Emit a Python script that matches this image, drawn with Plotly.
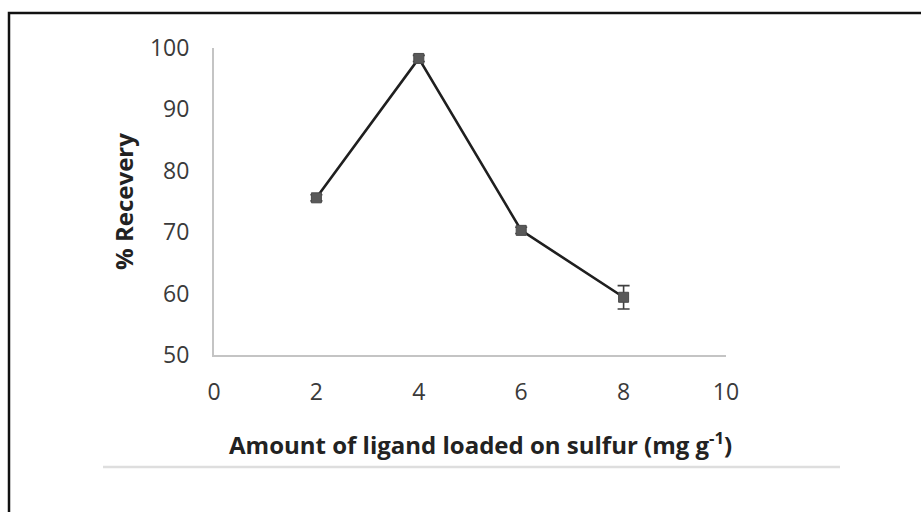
import plotly.graph_objects as go

# Ligand loading (mg g-1) vs. % recovery
loading = [2, 4, 6, 8]
recovery = [75.6, 98.3, 70.3, 59.4]
recovery_err = [0.5, 0.5, 0.5, 1.9]

x_ticks = [0, 2, 4, 6, 8, 10]
y_ticks = [50, 60, 70, 80, 90, 100]

W, H = 921, 512
L, R, T, B = 214, 195, 48, 157
plot_w = W - L - R
plot_h = H - T - B


def px_x(p):
    return (p - L) / plot_w


def px_y(p):
    return (H - B - p) / plot_h


font_family = "'Open Sans', Lato, sans-serif"

fig = go.Figure()
fig.add_trace(go.Scatter(
    x=loading,
    y=recovery,
    mode="lines+markers",
    line=dict(color="#1f1f1f", width=2.6),
    marker=dict(symbol="square", size=10, color="#595959",
                line=dict(color="#4a4a4a", width=1)),
    error_y=dict(type="data", array=recovery_err, visible=True,
                 color="#404040", thickness=1.6, width=6),
    showlegend=False,
    cliponaxis=False,
))

fig.update_layout(
    width=W, height=H,
    margin=dict(l=L, r=R, t=T, b=B),
    paper_bgcolor="white",
    plot_bgcolor="white",
    font=dict(family=font_family, color="#333333", size=22),
    xaxis=dict(
        range=[0, 10], tickvals=x_ticks, ticktext=[str(v) for v in x_ticks],
        showgrid=False, zeroline=False, showline=True,
        linecolor="#c4c4c4", linewidth=2, ticks="",
        ticklabelstandoff=15,
        tickfont=dict(size=23, color="#3a3a3a"),
    ),
    yaxis=dict(
        range=[50, 100], tickvals=y_ticks, ticktext=[str(v) for v in y_ticks],
        showgrid=False, zeroline=False, showline=True,
        linecolor="#c4c4c4", linewidth=2, ticks="",
        ticklabelstandoff=18,
        tickfont=dict(size=23, color="#3a3a3a"),
        title=dict(text="<b>% Recevery</b>",
                   font=dict(size=24, color="#222222"), standoff=10),
    ),
    annotations=[
        # x-axis title, centred under the full chart block
        dict(text="<b>Amount of ligand loaded on sulfur (mg g<sup>-1</sup>)</b>",
             xref="paper", yref="paper", x=px_x(480), y=px_y(443),
             xanchor="center", yanchor="middle", showarrow=False,
             font=dict(size=24, color="#222222", family=font_family)),
    ],
    shapes=[
        # outer frame
        dict(type="rect", xref="paper", yref="paper",
             x0=px_x(9), x1=px_x(930), y0=px_y(530), y1=px_y(13),
             line=dict(color="#111111", width=2.5), fillcolor="rgba(0,0,0,0)",
             layer="below"),
        # light separator under the axis title
        dict(type="line", xref="paper", yref="paper",
             x0=px_x(103), x1=px_x(840), y0=px_y(467), y1=px_y(467),
             line=dict(color="#dedede", width=2.5)),
    ],
)

fig.write_html("out.html")
